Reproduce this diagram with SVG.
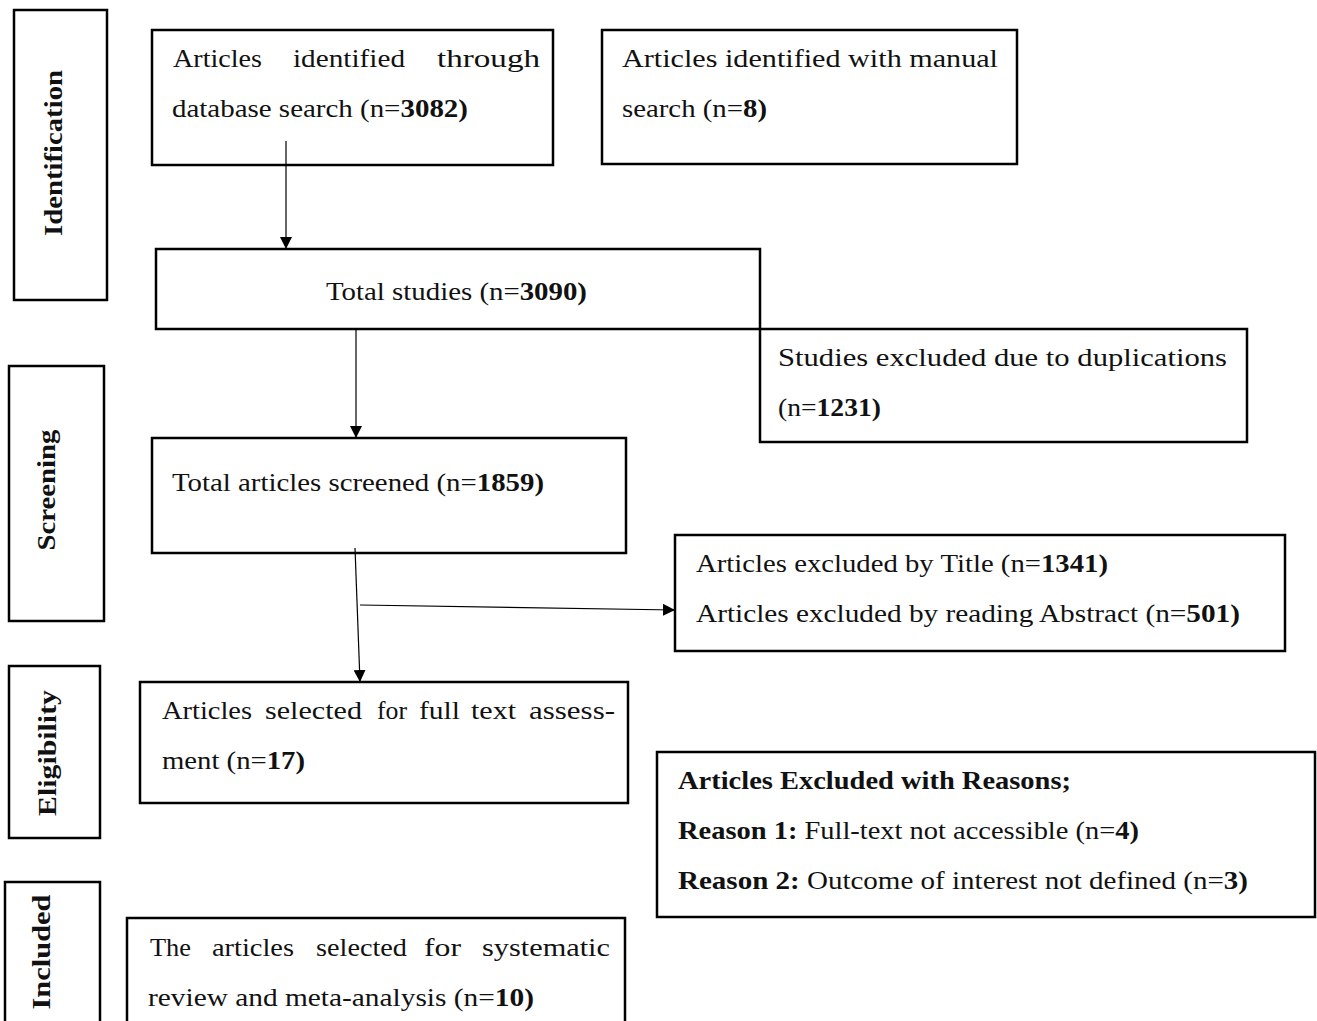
<svg xmlns="http://www.w3.org/2000/svg" width="1317" height="1021" viewBox="0 0 1317 1021">
<style>
  .box { fill: #fff; stroke: #000; stroke-width: 2.5; }
  .t { font-family: "Liberation Serif", "DejaVu Serif", serif; font-size: 26px; fill: #111; }
  .b { font-weight: bold; }
  .lbl { font-family: "Liberation Serif", "DejaVu Serif", serif; font-size: 25px; font-weight: bold; fill: #111; text-anchor: middle; }
  .conn { stroke: #000; stroke-width: 1.2; fill: none; marker-end: url(#ah); }
</style>
<defs>
  <marker id="ah" markerWidth="12" markerHeight="12" refX="12" refY="6" orient="auto" markerUnits="userSpaceOnUse">
    <path d="M0,0 L12,6 L0,12 Z" fill="#000"/>
  </marker>
</defs>
<rect width="1317" height="1021" fill="#fff"/>

<g id="stage-identification">
  <rect class="box" x="14" y="10" width="93" height="290"/>
  <text class="lbl" transform="translate(62,153) rotate(-90)" textLength="166" lengthAdjust="spacingAndGlyphs">Identification</text>
</g>
<g id="stage-screening">
  <rect class="box" x="9" y="366" width="95" height="255"/>
  <text class="lbl" transform="translate(55,490) rotate(-90)" textLength="121" lengthAdjust="spacingAndGlyphs">Screening</text>
</g>
<g id="stage-eligibility">
  <rect class="box" x="9" y="666" width="91" height="172"/>
  <text class="lbl" transform="translate(56,753) rotate(-90)" textLength="126" lengthAdjust="spacingAndGlyphs">Eligibility</text>
</g>
<g id="stage-included">
  <rect class="box" x="5" y="882" width="95" height="145"/>
  <text class="lbl" transform="translate(50,952) rotate(-90)" textLength="115" lengthAdjust="spacingAndGlyphs">Included</text>
</g>

<g id="node-database">
  <rect class="box" x="152" y="30" width="401" height="135"/>
  <text class="t" x="173" y="67" textLength="89" lengthAdjust="spacingAndGlyphs">Articles</text>
  <text class="t" x="293" y="67" textLength="112" lengthAdjust="spacingAndGlyphs">identified</text>
  <text class="t" x="437" y="67" textLength="103" lengthAdjust="spacingAndGlyphs">through</text>
  <text class="t" x="172" y="117" textLength="296" lengthAdjust="spacingAndGlyphs">database search (n=<tspan class="b">3082)</tspan></text>
</g>
<g id="node-manual">
  <rect class="box" x="602" y="30" width="415" height="134"/>
  <text class="t" x="622" y="67" textLength="376" lengthAdjust="spacingAndGlyphs">Articles identified with manual</text>
  <text class="t" x="622" y="117" textLength="145" lengthAdjust="spacingAndGlyphs">search (n=<tspan class="b">8)</tspan></text>
</g>
<g id="node-total">
  <rect class="box" x="156" y="249" width="604" height="80"/>
  <text class="t" x="326" y="300" textLength="261" lengthAdjust="spacingAndGlyphs">Total studies (n=<tspan class="b">3090)</tspan></text>
</g>
<g id="node-duplicates">
  <rect class="box" x="760" y="329" width="487" height="113"/>
  <text class="t" x="778" y="366" textLength="449" lengthAdjust="spacingAndGlyphs">Studies excluded due to duplications</text>
  <text class="t" x="778" y="416" textLength="103" lengthAdjust="spacingAndGlyphs">(n=<tspan class="b">1231)</tspan></text>
</g>
<g id="node-screened">
  <rect class="box" x="152" y="438" width="474" height="115"/>
  <text class="t" x="172" y="491" textLength="372" lengthAdjust="spacingAndGlyphs">Total articles screened (n=<tspan class="b">1859)</tspan></text>
</g>
<g id="node-excluded-title">
  <rect class="box" x="675" y="535" width="610" height="116"/>
  <text class="t" x="696" y="572" textLength="412" lengthAdjust="spacingAndGlyphs">Articles excluded by Title (n=<tspan class="b">1341)</tspan></text>
  <text class="t" x="696" y="622" textLength="544" lengthAdjust="spacingAndGlyphs">Articles excluded by reading Abstract (n=<tspan class="b">501)</tspan></text>
</g>
<g id="node-fulltext">
  <rect class="box" x="140" y="682" width="488" height="121"/>
  <text class="t" x="162" y="719" textLength="90" lengthAdjust="spacingAndGlyphs">Articles</text>
  <text class="t" x="265" y="719" textLength="97" lengthAdjust="spacingAndGlyphs">selected</text>
  <text class="t" x="377" y="719" textLength="30" lengthAdjust="spacingAndGlyphs">for</text>
  <text class="t" x="419" y="719" textLength="41" lengthAdjust="spacingAndGlyphs">full</text>
  <text class="t" x="471" y="719" textLength="45" lengthAdjust="spacingAndGlyphs">text</text>
  <text class="t" x="529" y="719" textLength="86" lengthAdjust="spacingAndGlyphs">assess-</text>
  <text class="t" x="162" y="769" textLength="143" lengthAdjust="spacingAndGlyphs">ment (n=<tspan class="b">17)</tspan></text>
</g>
<g id="node-reasons">
  <rect class="box" x="657" y="752" width="658" height="165"/>
  <text class="t b" x="678" y="789" textLength="393" lengthAdjust="spacingAndGlyphs">Articles Excluded with Reasons;</text>
  <text class="t" x="678" y="839" textLength="461" lengthAdjust="spacingAndGlyphs"><tspan class="b">Reason 1:</tspan> Full-text not accessible (n=<tspan class="b">4)</tspan></text>
  <text class="t" x="678" y="889" textLength="570" lengthAdjust="spacingAndGlyphs"><tspan class="b">Reason 2:</tspan> Outcome of interest not defined (n=<tspan class="b">3)</tspan></text>
</g>
<g id="node-included">
  <rect class="box" x="127" y="918" width="498" height="120"/>
  <text class="t" x="150" y="956" textLength="41" lengthAdjust="spacingAndGlyphs">The</text>
  <text class="t" x="212" y="956" textLength="82" lengthAdjust="spacingAndGlyphs">articles</text>
  <text class="t" x="316" y="956" textLength="91" lengthAdjust="spacingAndGlyphs">selected</text>
  <text class="t" x="424" y="956" textLength="37" lengthAdjust="spacingAndGlyphs">for</text>
  <text class="t" x="482" y="956" textLength="128" lengthAdjust="spacingAndGlyphs">systematic</text>
  <text class="t" x="148" y="1006" textLength="386" lengthAdjust="spacingAndGlyphs">review and meta-analysis (n=<tspan class="b">10)</tspan></text>
</g>

<g id="connectors">
  <line class="conn" x1="286" y1="141" x2="286" y2="249"/>
  <line class="conn" x1="356" y1="329" x2="356" y2="438"/>
  <line class="conn" x1="355" y1="548" x2="360" y2="682"/>
  <line class="conn" x1="360" y1="605" x2="675" y2="610"/>
</g>
</svg>
